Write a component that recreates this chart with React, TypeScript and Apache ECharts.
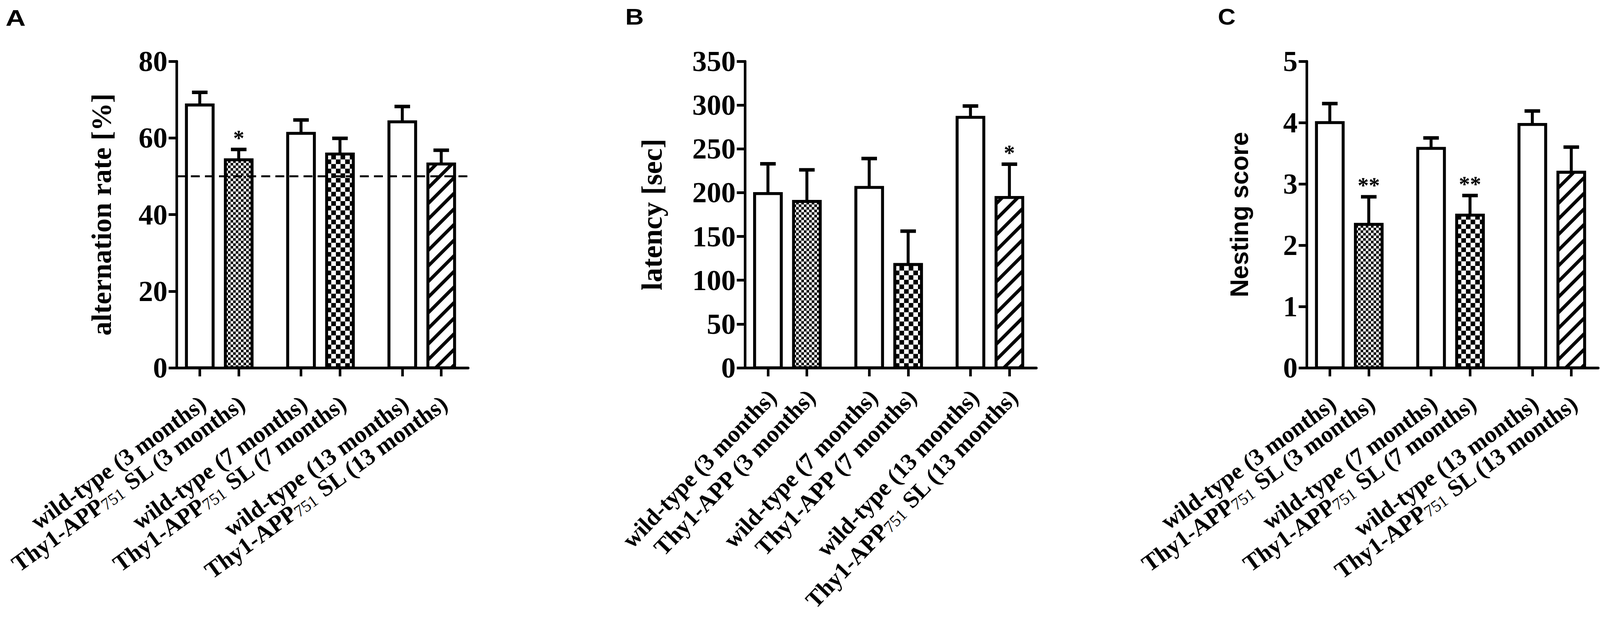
import React, { useEffect, useRef } from 'react';
import * as echarts from 'echarts';

// ---------- data ----------
const LABELS_A = [
  'wild-type (3 months)',
  'Thy1-APP751 SL (3 months)',
  'wild-type (7 months)',
  'Thy1-APP751 SL (7 months)',
  'wild-type (13 months)',
  'Thy1-APP751 SL (13 months)',
];
const LABELS_B = [
  'wild-type (3 months)',
  'Thy1-APP (3 months)',
  'wild-type (7 months)',
  'Thy1-APP (7 months)',
  'wild-type (13 months)',
  'Thy1-APP751 SL (13 months)',
];
const LABELS_C = [
  'wild-type (3 months)',
  'Thy1-APP751 SL (3 months)',
  'wild-type (7 months)',
  'Thy1-APP751 SL (7 months)',
  'wild-type (13 months)',
  'Thy1-APP751 SL (13 months)',
];

const MEAN_A = [68.6, 54.3, 61.2, 55.8, 64.2, 53.2];
const SEM_A = [3.3, 2.7, 3.5, 4.1, 4.0, 3.6];
const SIG_A = ['', '*', '', '', '', ''];
const CHANCE_A = 50;

const MEAN_B = [199, 190, 206, 118, 286, 194.5];
const SEM_B = [34, 36, 33, 38, 13, 38];
const SIG_B = ['', '', '', '', '', '*'];

const MEAN_C = [4.0, 2.34, 3.58, 2.49, 3.97, 3.19];
const SEM_C = [0.31, 0.45, 0.17, 0.32, 0.22, 0.41];
const SIG_C = ['', '**', '', '**', '', ''];

const YTICK_A = { min: 0, max: 80, interval: 20 };
const YTICK_B = { min: 0, max: 350, interval: 50 };
const YTICK_C = { min: 0, max: 5, interval: 1 };

const YNAME_A = 'alternation rate [%]';
const YNAME_B = 'latency [sec]';
const YNAME_C = 'Nesting score';

// ---------- layout / style (reference pixel units, 4317 x 1593) ----------
const REF_W = 4317;
const REF_H = 1593;
const BAR_POS = [0, 1, 2.6, 3.6, 5.2, 6.2];
const X_MIN = -0.59;
const X_MAX = 6.89;
const FILLS = ['white', 'fine', 'white', 'coarse', 'white', 'hatch'];
const SERIF = 'Liberation Serif';
const SANS = 'Liberation Sans';

function richify(s: string) {
  const m = s.match(/^(.*APP)(751)(.*)$/);
  if (m) return `{b|${m[1]}}{s|${m[2]}}{b|${m[3]}}`;
  return `{b|${s}}`;
}

export default function App() {
  const ref = useRef<HTMLDivElement>(null);
  useEffect(() => {
    const el = ref.current as HTMLDivElement;
    const W = el.clientWidth || REF_W;
    const H = el.clientHeight || REF_H;
    const sx = W / REF_W;
    const sy = H / REF_H;
    const X = (v: number) => v * sx;
    const Y = (v: number) => v * sy;
    const F = (v: number) => v * sx;
    const FV = (v: number) => v * sy;

    const chart = echarts.init(el, null, { renderer: 'svg' });

    const rich = {
      b: { fontFamily: SERIF, fontWeight: 'bold', fontSize: F(64), color: '#000' },
      s: { fontFamily: SERIF, fontWeight: 'normal', fontSize: F(45), color: '#000', verticalAlign: 'bottom' },
    };

    const makeRender = (sigs: string[], labels: string[], rot: number, margin: number, dx: number) =>
      function (params: any, api: any) {
        const i = params.dataIndex;
        const x = api.value(0);
        const m = api.value(1);
        const e = api.value(2);
        const b = api.coord([x, 0]);
        const t = api.coord([x, m]);
        const c = api.coord([x, m + e]);
        const cx = b[0];
        const yb = b[1];
        const yt = t[1];
        const yc = c[1];
        const half = X(36);
        const xl = cx - half;
        const xr = cx + half;
        const kids: any[] = [];
        kids.push({ type: 'line', shape: { x1: cx, y1: yt, x2: cx, y2: yc }, style: { stroke: '#000', lineWidth: X(8) } });
        kids.push({ type: 'line', shape: { x1: cx - X(21), y1: yc, x2: cx + X(21), y2: yc }, style: { stroke: '#000', lineWidth: Y(9) } });
        kids.push({ type: 'rect', shape: { x: xl, y: yt, width: xr - xl, height: yb - yt }, style: { fill: '#fff' } });
        const fill = FILLS[i];
        if (fill === 'fine' || fill === 'coarse') {
          const s = (fill === 'fine' ? 7 : 12.5) * sx;
          for (let r = 0; yb - r * s > yt; r++) {
            const y1 = yb - r * s;
            const y0 = Math.max(yt, y1 - s);
            for (let k = 0; xl + k * s < xr; k++) {
              if ((r + k) % 2) continue;
              const x0 = xl + k * s;
              const x1 = Math.min(xr, x0 + s);
              kids.push({ type: 'rect', shape: { x: x0, y: y0, width: x1 - x0, height: y1 - y0 }, style: { fill: '#000' } });
            }
          }
        } else if (fill === 'hatch') {
          const P = Y(40);
          const k0 = xl + yb;
          const kMin = xl + yt;
          const kMax = xr + yb;
          for (let j = -60; j <= 60; j++) {
            const k = k0 + j * P + P / 2;
            if (k <= kMin || k >= kMax) continue;
            const xs = Math.max(xl, k - yb);
            const xe = Math.min(xr, k - yt);
            if (xe <= xs) continue;
            kids.push({ type: 'line', shape: { x1: xs, y1: k - xs, x2: xe, y2: k - xe }, style: { stroke: '#000', lineWidth: X(9) } });
          }
        }
        kids.push({ type: 'rect', shape: { x: xl, y: yt, width: xr - xl, height: yb - yt }, style: { fill: 'none', stroke: '#000', lineWidth: X(8) } });
        if (sigs[i]) {
          kids.push({
            type: 'text',
            style: {
              text: sigs[i], x: cx, y: yc - Y(29), fill: '#000',
              fontSize: F(60), fontFamily: SERIF, fontWeight: 'bold',
              align: 'center', verticalAlign: 'middle',
            },
          });
        }
        kids.push({
          type: 'text',
          x: cx + X(dx),
          y: yb + Y(margin),
          rotation: (rot * Math.PI) / 180,
          style: {
            text: richify(labels[i]),
            rich,
            fill: '#000',
            fontFamily: SERIF,
            fontWeight: 'bold',
            fontSize: F(64),
            align: 'right',
            verticalAlign: 'top',
          },
        });
        return { type: 'group', children: kids };
      };

    const panels = [
      { left: 477, labels: LABELS_A, mean: MEAN_A, sem: SEM_A, sig: SIG_A, yt: YTICK_A, name: YNAME_A, nameGap: 165, nameFont: SERIF, nameSize: 72, rot: 36, margin: 60, dx: -10 },
      { left: 2010, labels: LABELS_B, mean: MEAN_B, sem: SEM_B, sig: SIG_B, yt: YTICK_B, name: YNAME_B, nameGap: 212, nameFont: SERIF, nameSize: 74, rot: 46, margin: 44, dx: -12 },
      { left: 3526, labels: LABELS_C, mean: MEAN_C, sem: SEM_C, sig: SIG_C, yt: YTICK_C, name: YNAME_C, nameGap: 148, nameFont: SANS, nameSize: 64, rot: 36, margin: 60, dx: -10 },
    ];

    const option: any = {
      animation: false,
      backgroundColor: '#fff',
      grid: panels.map((p) => ({
        left: X(p.left), top: Y(157), width: X(786), height: Y(785),
        containLabel: false, outerBoundsMode: 'none',
      })),
      xAxis: panels.map((p, gi) => ({
        type: 'value',
        gridIndex: gi,
        min: X_MIN,
        max: X_MAX,
        axisLine: { show: true, onZero: false, lineStyle: { color: '#000', width: Y(7) } },
        axisTick: { show: true, customValues: BAR_POS, length: Y(22), lineStyle: { color: '#000', width: X(7) } },
        axisLabel: { show: false },
        splitLine: { show: false },
      })),
      yAxis: panels.map((p, gi) => ({
        type: 'value',
        gridIndex: gi,
        min: p.yt.min,
        max: p.yt.max,
        interval: p.yt.interval,
        name: p.name,
        nameLocation: 'middle',
        nameGap: X(p.nameGap),
        nameTextStyle: { fontFamily: p.nameFont, fontWeight: 'bold', fontSize: FV(p.nameSize), color: '#000' },
        axisLine: { show: true, onZero: false, lineStyle: { color: '#000', width: X(7) } },
        axisTick: { show: true, length: X(22), lineStyle: { color: '#000', width: Y(7) } },
        axisLabel: { margin: X(25), fontFamily: SERIF, fontWeight: 'bold', fontSize: (F(76) + FV(76)) / 2, color: '#000', showMinLabel: true, showMaxLabel: true },
        splitLine: { show: false },
      })),
      series: panels.map((p, gi) => ({
        type: 'custom',
        xAxisIndex: gi,
        yAxisIndex: gi,
        clip: false,
        z: 3,
        encode: { x: 0, y: 1 },
        data: BAR_POS.map((x, i) => [x, p.mean[i], p.sem[i]]),
        renderItem: makeRender(p.sig, p.labels, p.rot, p.margin, p.dx),
        markLine: gi === 0 ? {
          silent: true,
          symbol: ['none', 'none'],
          label: { show: false },
          lineStyle: { color: '#000', width: Y(5), type: [X(24), X(14)] },
          data: [{ yAxis: CHANCE_A }],
          z: 6,
        } : undefined,
      })),
      graphic: [
        { type: 'text', x: X(15), y: Y(18), scaleX: 1.25, style: { text: 'A', fill: '#000', fontSize: FV(57), fontFamily: SANS, fontWeight: 'bold', verticalAlign: 'top' } },
        { type: 'text', x: X(1687), y: Y(15), scaleX: 1.15, style: { text: 'B', fill: '#000', fontSize: FV(57), fontFamily: SANS, fontWeight: 'bold', verticalAlign: 'top' } },
        { type: 'text', x: X(3286), y: Y(15), scaleX: 1.1, style: { text: 'C', fill: '#000', fontSize: FV(57), fontFamily: SANS, fontWeight: 'bold', verticalAlign: 'top' } },
      ],
    };
    chart.setOption(option);
    return () => chart.dispose();
  }, []);
  return <div ref={ref} style={{ position: 'fixed', left: 0, top: 0, width: '100vw', height: '100vh', background: '#fff' }} />;
}
